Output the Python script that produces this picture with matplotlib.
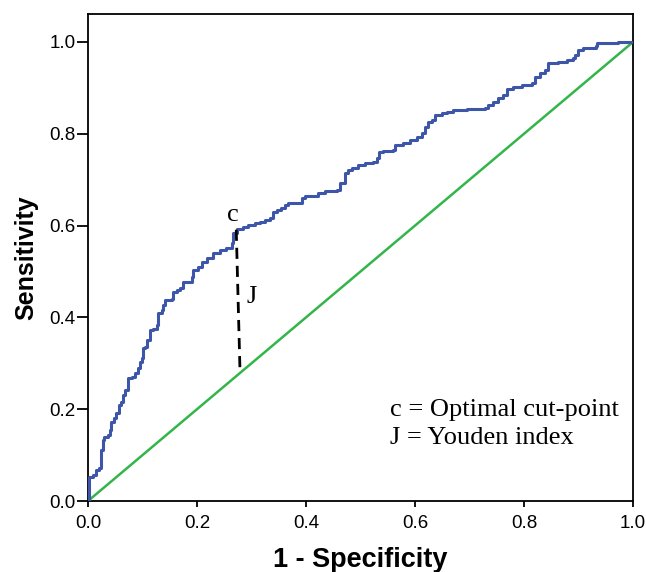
import matplotlib
matplotlib.use("Agg")
import matplotlib.pyplot as plt

# ROC curve (1 - specificity, sensitivity)
fpr = [0.000, 0.001, 0.009, 0.015, 0.020, 0.024, 0.027, 0.029, 0.036, 0.040,
       0.042, 0.048, 0.051, 0.057, 0.061, 0.064, 0.068, 0.073, 0.080, 0.086,
       0.092, 0.095, 0.099, 0.101, 0.105, 0.108, 0.114, 0.119, 0.126, 0.128,
       0.135, 0.138, 0.141, 0.154, 0.156, 0.163, 0.169, 0.174, 0.190, 0.193,
       0.202, 0.209, 0.218, 0.229, 0.242, 0.254, 0.264, 0.266, 0.273, 0.284,
       0.294, 0.306, 0.316, 0.325, 0.334, 0.339, 0.346, 0.355, 0.361, 0.367,
       0.389, 0.392, 0.398, 0.422, 0.435, 0.456, 0.462, 0.471, 0.477, 0.484,
       0.495, 0.508, 0.523, 0.530, 0.534, 0.541, 0.560, 0.563, 0.578, 0.591,
       0.603, 0.612, 0.618, 0.624, 0.631, 0.637, 0.649, 0.658, 0.670, 0.695,
       0.728, 0.734, 0.743, 0.752, 0.761, 0.768, 0.780, 0.796, 0.814, 0.820,
       0.829, 0.839, 0.844, 0.862, 0.878, 0.890, 0.894, 0.899, 0.908, 0.933,
       0.934, 0.971, 0.972, 1.000]
tpr = [0.000, 0.052, 0.057, 0.068, 0.072, 0.111, 0.133, 0.139, 0.144, 0.155,
       0.172, 0.181, 0.192, 0.209, 0.216, 0.231, 0.242, 0.268, 0.270, 0.279,
       0.290, 0.303, 0.312, 0.333, 0.336, 0.351, 0.373, 0.375, 0.383, 0.410,
       0.416, 0.427, 0.438, 0.440, 0.455, 0.460, 0.464, 0.477, 0.488, 0.503,
       0.510, 0.521, 0.529, 0.540, 0.547, 0.551, 0.562, 0.584, 0.593, 0.597,
       0.601, 0.606, 0.608, 0.612, 0.617, 0.630, 0.634, 0.638, 0.645, 0.649,
       0.649, 0.660, 0.664, 0.671, 0.675, 0.678, 0.693, 0.715, 0.721, 0.725,
       0.732, 0.736, 0.739, 0.747, 0.760, 0.763, 0.765, 0.776, 0.780, 0.786,
       0.793, 0.802, 0.815, 0.826, 0.830, 0.841, 0.845, 0.847, 0.852, 0.854,
       0.856, 0.863, 0.869, 0.878, 0.885, 0.898, 0.902, 0.906, 0.911, 0.924,
       0.932, 0.939, 0.954, 0.956, 0.961, 0.965, 0.972, 0.983, 0.987, 0.991,
       0.998, 0.998, 1.000, 1.000]

ref_line = [0.0, 1.0]
cut_point = (0.272, 0.591)
youden_base = (0.279, 0.279)
tick_vals = [0.0, 0.2, 0.4, 0.6, 0.8, 1.0]
tick_labels = ["0.0", "0.2", "0.4", "0.6", "0.8", "1.0"]

fig = plt.figure(figsize=(6.46, 5.72), dpi=100)
ax = fig.add_axes([88/646, 71/572, 545/646, 487/572])

ax.plot(ref_line, ref_line, color="#33b54a", lw=1.8, zorder=2)
ax.plot(fpr, tpr, color="#3e56aa", lw=2.2, drawstyle="steps-post", zorder=3)
ax.plot([cut_point[0], youden_base[0]], [cut_point[1], youden_base[1]],
        color="black", lw=2.0, linestyle=(0, (4, 2.5)), zorder=4)

serif = "Liberation Serif"
ax.text(cut_point[0] - 0.006, cut_point[1] + 0.008, "c", family=serif,
        fontsize=19, ha="center", va="bottom")
ax.text(0.291, 0.445, "J", family=serif, fontsize=19,
        ha="left", va="center")
ax.text(0.555, 0.198, "c = Optimal cut-point", family=serif,
        fontsize=19, ha="left", va="center")
ax.text(0.555, 0.137, "J = Youden index", family=serif,
        fontsize=19, ha="left", va="center")

ax.set_xlim(0, 1)
ax.set_ylim(0, 1.061)
ax.set_xticks(tick_vals)
ax.set_xticklabels(tick_labels)
ax.set_yticks(tick_vals)
ax.set_yticklabels(tick_labels)
for lab in ax.get_xticklabels() + ax.get_yticklabels():
    lab.set_family("Liberation Sans")
    lab.set_fontsize(13.5)
ax.tick_params(axis="y", direction="out", length=8, width=1.3, pad=1)
ax.tick_params(axis="x", direction="out", length=4, width=1.3, pad=6)
for s in ax.spines.values():
    s.set_linewidth(1.3)

ax.set_xlabel("1 - Specificity", family="Liberation Sans", fontweight="bold",
              fontsize=19.5, labelpad=11)
ax.set_ylabel("Sensitivity", family="Liberation Sans", fontweight="bold",
              fontsize=18, labelpad=8)

fig.savefig("out.png", dpi=100)
